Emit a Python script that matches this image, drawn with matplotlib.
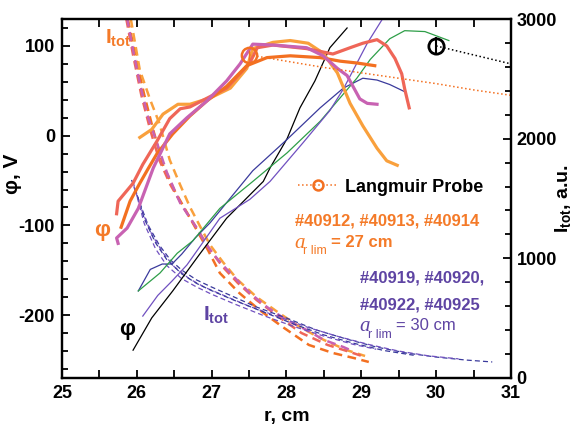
import matplotlib
matplotlib.use("Agg")
import matplotlib.pyplot as plt
from matplotlib.ticker import MultipleLocator

plt.rcParams['font.family'] = ['Liberation Sans', 'DejaVu Sans']
plt.rcParams['axes.unicode_minus'] = False
plt.rcParams['mathtext.fontset'] = 'custom'
plt.rcParams['mathtext.rm'] = 'Liberation Sans'
plt.rcParams['mathtext.bf'] = 'Liberation Sans:bold'
plt.rcParams['mathtext.it'] = 'Liberation Serif:italic'
plt.rcParams['mathtext.sf'] = 'Liberation Sans'

ORANGE_L = '#F9A03C'
ORANGE_D = '#F37021'
SALMON = '#EF6658'
MAGENTA = '#C862B2'
NAVY = '#3A3A9C'
PURPLE = '#7050C0'
GREEN = '#2E9E48'
TXT_OR = '#F47A28'
TXT_PU = '#5E44A3'

# potential profiles, a_r lim = 27 cm (left axis, V)
r_or_l = [26.04, 26.20, 26.35, 26.55, 26.71, 26.98, 27.25, 27.47, 27.55, 27.82, 28.05,
          28.29, 28.49, 28.68, 28.85, 29.02, 29.21, 29.34, 29.48]
phi_or_l = [-2, 7, 24, 35, 35, 42, 53, 75, 97, 104, 106, 103, 92, 70, 36, 11, -14, -28, -33]

r_salmon = [25.73, 25.75, 25.84, 25.95, 26.08, 26.27, 26.44, 26.58, 26.71, 27.20, 27.51,
            27.61, 27.82, 28.27, 28.62, 28.85, 29.02, 29.21, 29.34, 29.45, 29.54, 29.58, 29.64]
phi_salmon = [-87, -73, -64, -53, -32, -6, 19, 30, 32, 53, 81, 98, 101, 97, 91, 98, 103,
              107, 100, 86, 69, 52, 31]

r_or_d = [25.79, 25.91, 26.04, 26.15, 26.27, 26.48, 26.71, 26.94, 27.20, 27.47, 27.74,
          28.05, 28.45, 28.72, 28.94, 29.18]
phi_or_d = [-102, -73, -53, -37, -20, 2, 22, 39, 55, 78, 87, 89, 87, 83, 81, 78]

r_magenta = [25.75, 25.73, 25.87, 26.02, 26.22, 26.44, 26.67, 26.94, 27.20, 27.38, 27.55,
             27.82, 28.27, 28.49, 28.68, 28.81, 28.98, 29.08, 29.21]
phi_magenta = [-120, -114, -103, -81, -36, 2, 20, 39, 61, 80, 102, 101, 98, 89, 75, 67,
               41, 36, 35]

# potential profiles, a_r lim = 30 cm (left axis, V)
r_black = [25.95, 26.20, 26.48, 26.84, 27.20, 27.69, 27.78, 28.01, 28.18, 28.38, 28.58, 28.81]
phi_black = [-239, -203, -173, -132, -92, -51, -36, -3, 31, 61, 98, 120]

r_navy = [26.02, 26.18, 26.34, 26.47, 26.60, 26.78, 26.98, 27.55, 28.01, 28.45, 28.76,
          29.02, 29.21, 29.38, 29.58]
phi_navy = [-173, -149, -143, -143, -132, -114, -97, -39, -4, 31, 53, 64, 62, 57, 49]

r_green = [26.02, 26.31, 26.54, 26.75, 27.11, 27.55, 28.01, 28.45, 28.94, 29.12, 29.38,
           29.58, 29.85, 30.17]
phi_green = [-173, -153, -131, -117, -81, -51, -19, 16, 64, 85, 108, 117, 116, 106]

r_purple = [26.08, 26.28, 26.47, 26.67, 26.84, 27.11, 27.51, 27.78, 28.22, 28.58, 28.76,
            29.08, 29.32]
phi_purple = [-201, -178, -162, -144, -124, -92, -71, -51, -8, 28, 52, 103, 135]

# Langmuir probe
lp_r = [27.5, 28.0, 28.5, 29.0, 29.5, 30.0, 30.5, 31.0]
lp_phi = [90, 83, 76, 70, 64, 58, 51, 45]
lp2_r = [30.0, 31.0]
lp2_phi = [100, 80]

# total current profiles (right axis, a.u.)
ri_magenta = [25.87, 25.95, 26.04, 26.15, 26.27, 26.40, 26.58, 26.80, 26.94, 27.11, 27.30,
              27.51, 27.74, 28.00, 28.27, 28.50, 28.76, 28.88]
it_magenta = [3008, 2741, 2465, 2181, 1964, 1721, 1462, 1253, 1103, 969, 844, 710, 593,
              485, 401, 318, 259, 226]
ri_salmon = [25.86, 25.95, 26.06, 26.18, 26.30, 26.45, 26.62, 26.80, 26.98, 27.15, 27.35,
             27.60, 27.90, 28.20, 28.55, 28.85, 29.05]
it_salmon = [3000, 2699, 2365, 2072, 1822, 1613, 1429, 1253, 1070, 928, 794, 652, 510,
             376, 276, 217, 175]
ri_or_l = [25.92, 26.04, 26.18, 26.30, 26.44, 26.58, 26.71, 26.85, 26.98, 27.15, 27.35,
           27.60, 27.90, 28.20, 28.50, 28.80, 29.05]
it_or_l = [3000, 2574, 2323, 2131, 1822, 1613, 1429, 1262, 1111, 969, 819, 677, 543, 418,
           318, 234, 184]
ri_or_d = [25.88, 25.98, 26.10, 26.22, 26.35, 26.50, 26.65, 26.80, 26.95, 27.11, 27.37,
           27.64, 27.95, 28.30, 28.62, 28.90, 29.10]
it_or_d = [3000, 2699, 2365, 2072, 1780, 1571, 1404, 1237, 1070, 877, 710, 568, 426, 276,
           209, 167, 134]

ri_td1 = [25.93, 26.05, 26.15, 26.30, 26.45, 26.60, 26.80, 27.00, 27.30, 27.60, 28.00,
          28.40, 28.80, 29.20, 29.60, 30.00, 30.40, 30.75]
it_td1 = [1655, 1446, 1279, 1111, 986, 902, 819, 760, 677, 593, 501, 401, 326, 259, 209,
          175, 150, 134]
ri_td2 = [25.96, 26.08, 26.20, 26.35, 26.50, 26.70, 26.90, 27.20, 27.50, 27.90, 28.30,
          28.70, 29.10, 29.50, 29.90, 30.30]
it_td2 = [1600, 1380, 1200, 1045, 930, 830, 760, 680, 600, 510, 420, 345, 280, 225, 185, 160]
ri_td3 = [25.98, 26.10, 26.25, 26.40, 26.60, 26.80, 27.00, 27.30, 27.70, 28.10, 28.50,
          28.90, 29.30, 29.70]
it_td3 = [1580, 1330, 1130, 990, 870, 790, 730, 650, 550, 450, 360, 290, 230, 190]
ri_td4 = [25.95, 26.10, 26.25, 26.40, 26.60, 26.80, 27.00, 27.30, 27.70, 28.10, 28.50,
          28.90, 29.20]
it_td4 = [1640, 1290, 1080, 940, 830, 760, 700, 620, 520, 430, 350, 280, 240]

fig = plt.figure(figsize=(5.76, 4.32), dpi=100)
ax = fig.add_axes([0.1076, 0.125, 0.7795, 0.831])
ax2 = ax.twinx()
ax.set_zorder(ax2.get_zorder() + 1)
ax.patch.set_visible(False)

# thick dashed I_tot
for rr, ii, c in [(ri_or_d, it_or_d, ORANGE_D), (ri_or_l, it_or_l, ORANGE_L),
                  (ri_salmon, it_salmon, SALMON), (ri_magenta, it_magenta, MAGENTA)]:
    ax2.plot(rr, ii, color=c, lw=1.8, dashes=(3.5, 2.2))
# thin dashed I_tot
for rr, ii, c in [(ri_td1, it_td1, NAVY), (ri_td2, it_td2, PURPLE),
                  (ri_td3, it_td3, NAVY), (ri_td4, it_td4, PURPLE)]:
    ax2.plot(rr, ii, color=c, lw=0.9, dashes=(4, 2.5))

# thin solid phi
ax.plot(r_black, phi_black, color='black', lw=0.9)
ax.plot(r_navy, phi_navy, color=NAVY, lw=0.9)
ax.plot(r_green, phi_green, color=GREEN, lw=0.9)
ax.plot(r_purple, phi_purple, color=PURPLE, lw=0.9)

# thick solid phi
ax.plot(r_or_l, phi_or_l, color=ORANGE_L, lw=2.3)
ax.plot(r_salmon, phi_salmon, color=SALMON, lw=2.3)
ax.plot(r_or_d, phi_or_d, color=ORANGE_D, lw=2.3)
ax.plot(r_magenta, phi_magenta, color=MAGENTA, lw=2.3)

# Langmuir probe
lp_line, = ax.plot(lp_r, lp_phi, color=ORANGE_D, ls=':', lw=1.1, marker='o',
                   markevery=[0], ms=11, mfc='none', mew=1.8, label='Langmuir Probe')
ax.errorbar(lp_r[0], lp_phi[0], yerr=6, color=ORANGE_D, lw=1.0, capsize=0)
ax.plot(lp2_r, lp2_phi, color='black', ls=':', lw=1.1, marker='o', markevery=[0],
        ms=11, mfc='none', mew=2.0)
ax.errorbar(lp2_r[0], lp2_phi[0], yerr=10, color='black', lw=1.5, capsize=0)

leg = ax.legend(handles=[lp_line], loc='center left', bbox_to_anchor=(0.51, 0.532),
                frameon=False, prop={'size': 13, 'weight': 'bold'}, handlelength=2.2,
                handletextpad=0.4, markerscale=0.65, borderaxespad=0)

ax.set_xlim(25, 31)
ax.set_ylim(-270, 130)
ax2.set_ylim(0, 3000)
ax.xaxis.set_major_locator(MultipleLocator(1))
ax.xaxis.set_minor_locator(MultipleLocator(0.5))
ax.yaxis.set_major_locator(MultipleLocator(100))
ax.yaxis.set_minor_locator(MultipleLocator(20))
ax2.yaxis.set_major_locator(MultipleLocator(1000))
ax2.yaxis.set_minor_locator(MultipleLocator(200))

ax.tick_params(which='both', direction='in', top=True, right=False, width=1.3,
               labelsize=13, pad=5)
ax.tick_params(which='major', length=6)
ax.tick_params(which='minor', length=4)
ax.tick_params(axis='x', which='minor', length=6)
ax2.tick_params(which='both', direction='in', width=1.3, labelsize=13, pad=4)
ax2.tick_params(which='major', length=6)
ax2.tick_params(which='minor', length=4)
for a in (ax, ax2):
    for lab in a.get_xticklabels() + a.get_yticklabels():
        lab.set_fontweight('bold')
    for s in a.spines.values():
        s.set_linewidth(1.6)

ax.set_xlabel('r, cm', fontsize=14, fontweight='bold')
ax.set_ylabel('φ, V', fontsize=15, fontweight='bold')
ax.yaxis.set_label_coords(-0.09, 0.57)
ax2.set_ylabel(r'$\mathbf{I_{tot}}$, a.u.', fontsize=14, fontweight='bold')
ax2.yaxis.set_label_coords(1.093, 0.5)

# curve labels
ax.text(25.58, 108, r'$\mathbf{I_{tot}}$', color=TXT_OR, fontsize=15, va='center')
ax.text(25.53, -106, 'φ', color=TXT_OR, fontsize=16, fontweight='bold',
        ha='center', va='center')
ax.text(25.87, -216, 'φ', color='black', fontsize=16, fontweight='bold',
        ha='center', va='center')
ax.text(26.88, -200, r'$\mathbf{I_{tot}}$', color=TXT_PU, fontsize=15, va='center')

ax.text(28.11, -95, '#40912, #40913, #40914', color=TXT_OR, fontsize=12,
        fontweight='bold', va='center')
ax.text(28.10, -120, 'a', color=TXT_OR, fontsize=15, family='Liberation Serif',
        style='italic', va='center')
ax.text(28.22, -128, 'r lim', color=TXT_OR, fontsize=9, va='center')
ax.text(28.59, -119, '= 27 cm', color=TXT_OR, fontsize=12, fontweight='bold',
        va='center')
ax.text(28.98, -159, '#40919, #40920,', color=TXT_PU, fontsize=12,
        fontweight='bold', va='center')
ax.text(28.98, -189, '#40922, #40925', color=TXT_PU, fontsize=12,
        fontweight='bold', va='center')
ax.text(28.97, -213, 'a', color=TXT_PU, fontsize=15, family='Liberation Serif',
        style='italic', va='center')
ax.text(29.09, -222, 'r lim', color=TXT_PU, fontsize=9, va='center')
ax.text(29.46, -212, '= 30 cm', color=TXT_PU, fontsize=12, va='center')

fig.savefig('out.png', dpi=100)
